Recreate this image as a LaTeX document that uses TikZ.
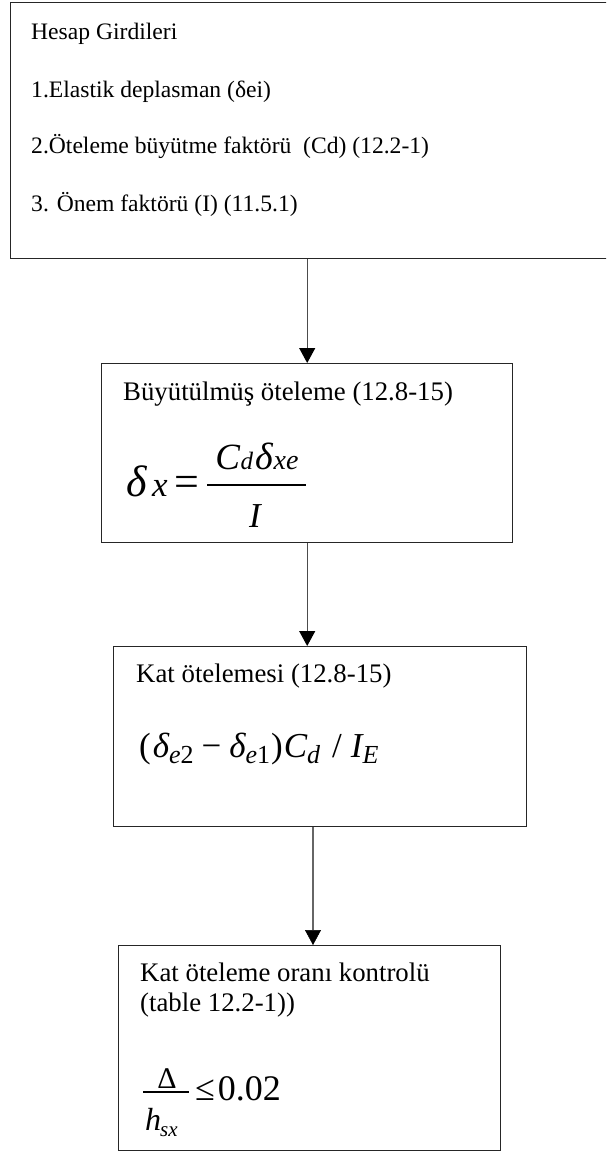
\documentclass[tikz,border=0pt]{standalone}
\usepackage{fontspec}
\setmainfont{Liberation Serif}
\usetikzlibrary{arrows.meta}
\newcommand{\fsz}[1]{\fontsize{#1}{#1}\selectfont}
\newcommand{\lowsub}[2]{\raisebox{-#1}{\fsz{26}#2}}
\tikzset{
  box/.style={draw=black!85, line width=1.4pt, inner sep=0pt, anchor=north west, fill=none},
  txt/.style={anchor=base west, inner sep=0pt, font=\fsz{23.6}, text=black},
  ttl/.style={anchor=base west, inner sep=0pt, font=\fsz{26.8}, text=black},
  fm/.style={anchor=base west, inner sep=0pt, text=black},
  arr/.style={draw=black!70, line width=1.1pt, -{Triangle[width=16pt,length=15pt,color=black]}},
  arrthick/.style={draw=black!60, line width=2.6pt, -{Triangle[width=16pt,length=15pt,color=black,line width=0.5pt]}},
  fbar/.style={draw=black, line width=1.6pt},
}
\begin{document}
\begin{tikzpicture}[x=1pt,y=-1pt]
\useasboundingbox (0,0) rectangle (606,1152);
\fill[white] (0,0) rectangle (606,1152);
\clip (0,0) rectangle (606,1152);

% Box 1
\node[box, minimum width=606pt, minimum height=256pt] (box1) at (10,2) {};
\node[txt] (t1) at (31,39) {Hesap Girdileri};
\node[txt] (t2) at (31,97) {1.Elastik deplasman (δei)};
\node[txt] (t3) at (31,153) {2.Öteleme büyütme faktörü\ \ (Cd) (12.2-1)};
\node[txt] (t4) at (31,211) {3. Önem faktörü (I) (11.5.1)};

% Box 2
\node[box, minimum width=411pt, minimum height=179pt] (box2) at (101,363) {};
\node[ttl] (t5) at (123,400) {Büyütülmüş öteleme (12.8-15)};
\node[fm, font=\fsz{44}\itshape] (f2a) at (126,496) {δ};
\node[fm, font=\fsz{35}\itshape] (f2b) at (152,496) {x};
\node[fm, font=\fsz{44}] (f2c) at (174,496) {=};
\coordinate (b2l) at (207,485);
\coordinate (b2r) at (306,485);
\draw[fbar] (b2l) -- (b2r);
\node[fm, anchor=base, font=\itshape] (f2n) at (257,469) {\fsz{37}C\kern0.5pt\fsz{25}d\kern2pt\fsz{38}δ\kern1pt\fsz{28}xe};
\node[fm, anchor=base, font=\fsz{35}\itshape] (f2d) at (255,527) {I};

% Box 3
\node[box, minimum width=413pt, minimum height=180pt] (box3) at (113,646) {};
\node[ttl] (t6) at (136,682) {Kat ötelemesi (12.8-15)};
\node[fm, font=\fsz{35}] (f3) at (139,757) {(\kern2pt{\itshape δ}\lowsub{6pt}{\itshape e\upshape 2}\kern8pt−\kern8pt{\itshape δ}\lowsub{6pt}{\itshape e\upshape 1}\kern1pt)\kern1pt{\itshape C}\lowsub{6pt}{\itshape d}\kern12pt/\kern9pt{\itshape I}\lowsub{6pt}{\itshape E}};

% Box 4
\node[box, minimum width=382pt, minimum height=205pt] (box4) at (118,945) {};
\node[ttl] (t7) at (140,981) {Kat öteleme oranı kontrolü};
\node[ttl] (t8) at (140,1011) {(table 12.2-1))};
\node[fm, anchor=base, font=\fsz{30}] (f4n) at (167,1088) {Δ};
\coordinate (b4l) at (143,1092);
\coordinate (b4r) at (189,1092);
\draw[fbar] (b4l) -- (b4r);
\node[fm, font=\fsz{32}\itshape] (f4d) at (145,1130) {h\kern-1pt\raisebox{-6pt}{\fsz{21}sx}};
\node[fm, font=\fsz{36}] (f4r) at (195,1100) {≤\kern3pt0.02};

% Connectors
\coordinate (a3x) at (313,0);
\draw[arr] (box1.south -| box2.north) -- (box2.north);
\draw[arr] (box2.south) -- (box2.south |- box3.north);
\draw[arrthick] (box3.south -| a3x) -- (box4.north -| a3x);
\end{tikzpicture}
\end{document}
